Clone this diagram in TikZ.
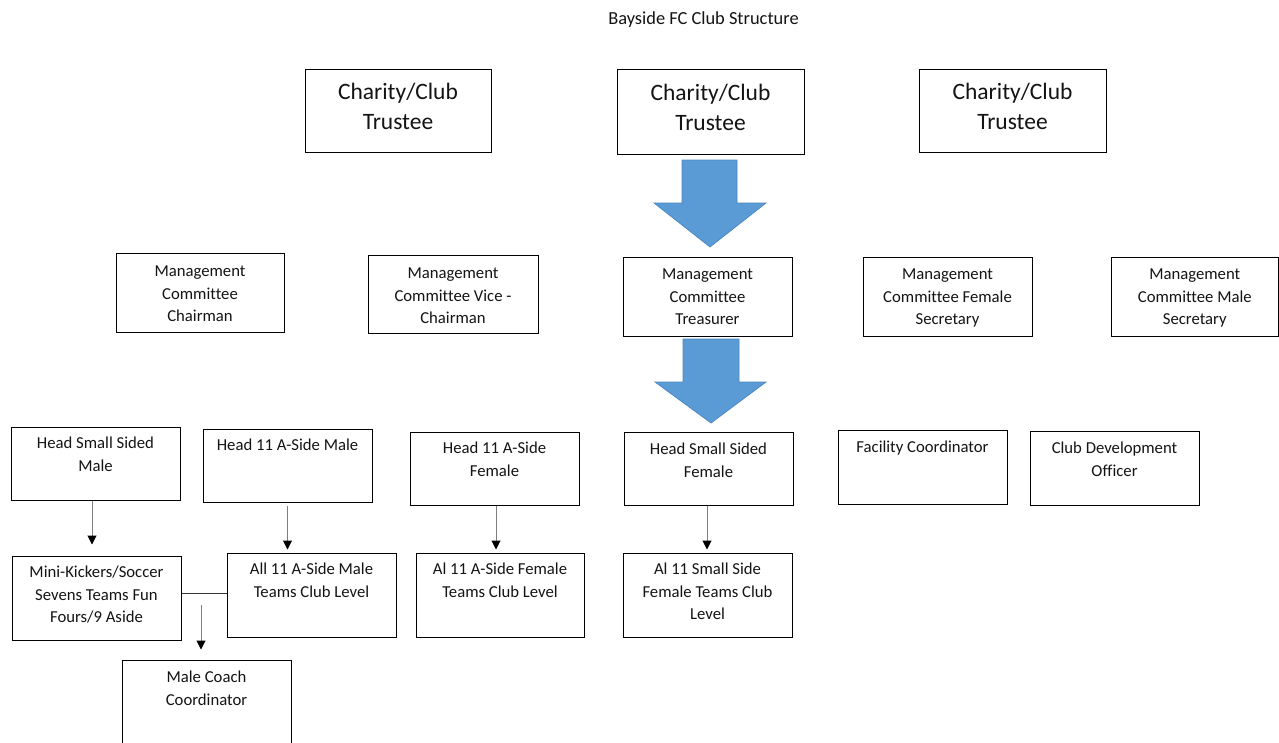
\documentclass[tikz,border=0pt]{standalone}
\usepackage{fontspec}
\setmainfont{Carlito}[Ligatures=NoCommon]
\usetikzlibrary{arrows.meta}
\definecolor{arrowblue}{HTML}{5B9BD5}
\definecolor{arrowedge}{HTML}{4A86C0}
\definecolor{linegray}{HTML}{7F7F7F}
\definecolor{txt}{HTML}{141414}
\tikzset{
  obox/.style={draw=black, line width=1pt, fill=white, inner sep=0pt},
  otext/.style={inner sep=0pt, align=center, text=txt, font=\fontsize{16.7}{22.3}\selectfont},
  bigtext/.style={font=\fontsize{23.5}{29.5}\selectfont},
  conn/.style={draw=linegray, line width=1pt, -{Triangle[width=9pt,length=9pt,color=black]}},
  bigarrow/.style={fill=arrowblue, draw=arrowedge, line width=0.7pt, line join=miter},
}
% [text style]{name}{x1}{y1}{x2}{y2}{first baseline offset}{text}
\newcommand\obx[8]{%
  \node[obox, minimum width={#5-#3}, minimum height={#6-#4}] (#2) at ({(#3+#5)/2},{(#4+#6)/2}) {};%
  \node[otext, #1, anchor=north] (#2-t) at (#2.north) {\rule{0pt}{#7pt}#8};%
}
\begin{document}
\begin{tikzpicture}[x=1pt, y=-1pt]
\fill[white] (0,0) rectangle (1279,742);
\useasboundingbox (0,0) rectangle (1279,742);

\node[text=txt, font=\fontsize{18.4}{22}\selectfont, anchor=base, inner sep=0pt] (title) at (703.5,24) {Bayside FC Club Structure};

% trustees
\obx{bigtext}{tr1}{305}{69}{491}{152}{31}{Charity/Club\\Trustee}
\obx{bigtext}{tr2}{617}{69}{804}{154}{32}{Charity/Club\\Trustee}
\obx{bigtext}{tr3}{919}{69}{1106}{152}{31}{Charity/Club\\Trustee}

% management committee
\obx{}{mg1}{116}{253}{284}{332}{24}{Management\\Committee\\Chairman}
\obx{}{mg2}{368}{255}{538}{333}{24}{Management\\Committee Vice -\\Chairman}
\obx{}{mg3}{623}{257}{792}{336}{23}{Management\\Committee\\Treasurer}
\obx{}{mg4}{863}{257}{1032}{336}{23}{Management\\Committee Female\\Secretary}
\obx{}{mg5}{1111}{257}{1278.5}{336}{23}{Management\\Committee Male\\Secretary}

% heads
\obx{}{h1}{11}{427}{180}{500}{22}{Head Small Sided\\Male}
\obx{}{h2}{203}{429}{372}{502}{22}{Head 11 A-Side Male}
\obx{}{h3}{410}{432}{579}{505}{22}{Head 11 A-Side\\Female}
\obx{}{h4}{624}{432}{793}{505}{23}{Head Small Sided\\Female}
\obx{}{h5}{838}{430}{1007}{504}{23}{Facility Coordinator}
\obx{}{h6}{1030}{431}{1199}{505}{23}{Club Development\\Officer}

% teams
\obx{}{r1}{12}{556}{181}{640}{22}{Mini-Kickers/Soccer\\Sevens Teams Fun\\Fours/9 Aside}
\obx{}{r2}{227}{553}{396}{637}{22}{All 11 A-Side Male\\Teams Club Level}
\obx{}{r3}{416}{553}{584}{637}{22}{Al 11 A-Side Female\\Teams Club Level}
\obx{}{r4}{623}{553}{792}{637}{22}{Al 11 Small Side\\Female Teams Club\\Level}
\obx{}{coach}{122}{660}{291}{780}{23}{Male Coach\\Coordinator}

% block arrows
\draw[bigarrow] (682,160) -- (737,160) -- (737,203) -- (766,203) -- (710,247) -- (654,203) -- (682,203) -- cycle;
\draw[bigarrow] (683,339) -- (739,339) -- (739,382) -- (766,382) -- (711,423) -- (655,382) -- (683,382) -- cycle;

% connectors
\draw[conn, shorten >=11pt] ([xshift=-3.5pt]h1.south) -- ([xshift=-3.5pt]h1.south |- r1.north);
\draw[conn, shorten <=3pt, shorten >=3pt] (h2.south) -- (h2.south |- r2.north);
\draw[conn, shorten >=3pt] ([xshift=1.5pt]h3.south) -- ([xshift=1.5pt]h3.south |- r3.north);
\draw[conn, shorten >=3pt] ([xshift=-1.5pt]h4.south) -- ([xshift=-1.5pt]h4.south |- r4.north);
\draw[draw=black!80, line width=1pt] ([yshift=2pt]r2.west) -- ([yshift=2pt]r2.west -| r1.east);
\coordinate (cs) at (201,605);
\draw[conn, shorten >=10pt] (cs) -- (cs |- coach.north);
\end{tikzpicture}
\end{document}
